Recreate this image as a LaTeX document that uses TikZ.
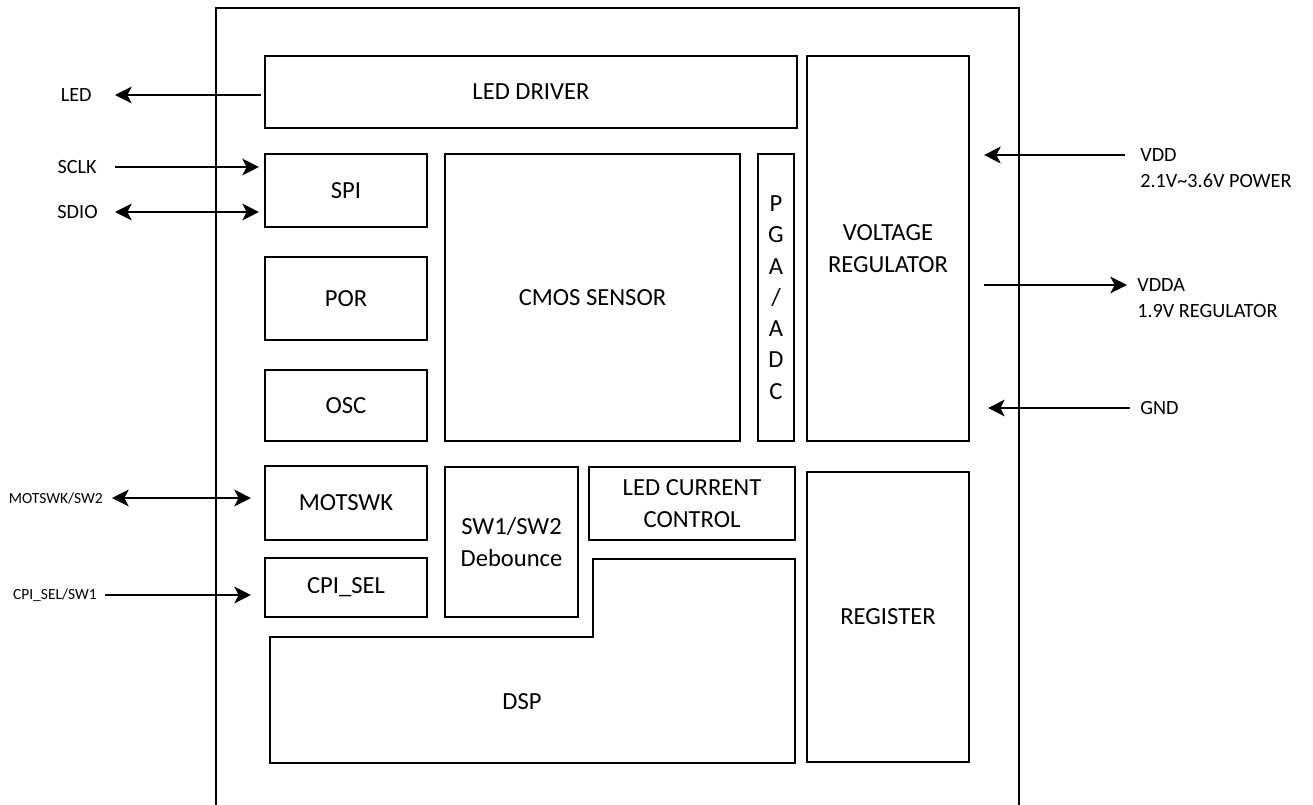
\documentclass[tikz,border=0pt]{standalone}
\usepackage{fontspec}
\setmainfont{Carlito}
\usetikzlibrary{positioning,arrows.meta}

\begin{document}
\begin{tikzpicture}[x=0.02cm, y=-0.02cm, >={Stealth[length=9.5pt,width=9.5pt,inset=2.5pt]},
  blk/.style={draw, line width=1.2pt, inner sep=0pt, align=center,
    font=\fontsize{14}{17.8}\selectfont},
  lbl/.style={inner sep=0pt, font=\fontsize{11.5}{14}\selectfont},
  sml/.style={inner sep=0pt, font=\fontsize{8.8}{12}\selectfont},
  sig/.style={line width=1.1pt}]

\useasboundingbox (0,0) rectangle (1313,805);

% Chip outline
\draw[line width=1.1pt] (216,805) |- (1019,8) -- (1019,805);

% Blocks
\node[blk, minimum width=10.64cm, minimum height=1.44cm] (drv) at (531,92) {LED DRIVER};
\node[blk, minimum width=3.24cm, minimum height=1.46cm] (spi) at (346,190.5) {SPI};
\node[blk, minimum width=3.24cm, minimum height=1.66cm] (por) at (346,298.5) {POR};
\node[blk, minimum width=3.24cm, minimum height=1.42cm] (osc) at (346,405.5) {OSC};
\node[blk, minimum width=5.9cm, minimum height=5.74cm] (cmos) at (592.5,297.5) {CMOS SENSOR};
\node[blk, minimum width=0.72cm, minimum height=5.74cm] (pga) at (776,297.5) {P\\G\\A\\/\\A\\D\\C};
\node[blk, minimum width=3.24cm, minimum height=7.7cm] (vreg) at (888,248.5) {VOLTAGE\\REGULATOR};
\node[blk, minimum width=3.24cm, minimum height=1.48cm] (motswk) at (346,503) {MOTSWK};
\node[blk, minimum width=3.24cm, minimum height=1.18cm] (cpisel) at (346,587.5) {CPI\_SEL};
\node[blk, minimum width=2.66cm, minimum height=3.0cm] (deb) at (511.5,542) {SW1/SW2\\Debounce};
\node[blk, minimum width=4.12cm, minimum height=1.46cm] (ledcc) at (692,503.5) {LED CURRENT\\CONTROL};
\node[blk, minimum width=3.24cm, minimum height=5.8cm] (reg) at (888,617) {REGISTER};

% DSP (stepped outline)
\draw[line width=0.6pt] (593,559) -- (795,559) -- (795,763) -- (270,763) -- (270,637) -- (593,637) -- cycle;
\node[blk, draw=none] (dsp) at (522,702) {DSP};

% Left labels
\node[lbl, anchor=east] (led) at (92,95) {LED};
\node[lbl, anchor=east] (sclk) at (97,167) {SCLK};
\node[lbl, anchor=east] (sdio) at (98,212) {SDIO};
\node[sml, anchor=east] (mot) at (103,498) {MOTSWK/SW2};
\node[sml, anchor=east] (cpi) at (97,595) {CPI\_SEL/SW1};

% Right labels
\node[lbl, anchor=west] (vdd) at (1140,155) {VDD};
\node[lbl, anchor=west] (vddtxt) at (1140,181) {2.1V\textasciitilde3.6V POWER};
\node[lbl, anchor=west] (vdda) at (1137,285) {VDDA};
\node[lbl, anchor=west] (vddatxt) at (1137,311) {1.9V REGULATOR};
\node[lbl, anchor=west] (gnd) at (1140,408) {GND};

% Left signals
\draw[sig, ->, shorten >=0.46cm, shorten <=0.06cm] (drv.west |- led) -- (led.east);
\draw[sig, ->, shorten <=0.36cm, shorten >=0.1cm] (sclk.east) -- (spi.west |- sclk);
\draw[sig, <->, shorten <=0.34cm, shorten >=0.1cm] (sdio.east) -- (spi.west |- sdio);
\draw[sig, <->, shorten <=0.18cm, shorten >=0.26cm] (mot.east) -- (motswk.west |- mot);
\draw[sig, ->, shorten <=0.16cm, shorten >=0.26cm] (cpi.east) -- (cpisel.west |- cpi);

% Right signals
\draw[sig, ->, shorten <=0.3cm, shorten >=0.28cm] (vdd.west) -- (vreg.east |- vdd);
\draw[sig, ->, shorten <=0.28cm, shorten >=0.2cm] (vreg.east |- vdda) -- (vdda.west);
\draw[sig, ->, shorten <=0.2cm, shorten >=0.36cm] (gnd.west) -- (vreg.east |- gnd);

\end{tikzpicture}
\end{document}
